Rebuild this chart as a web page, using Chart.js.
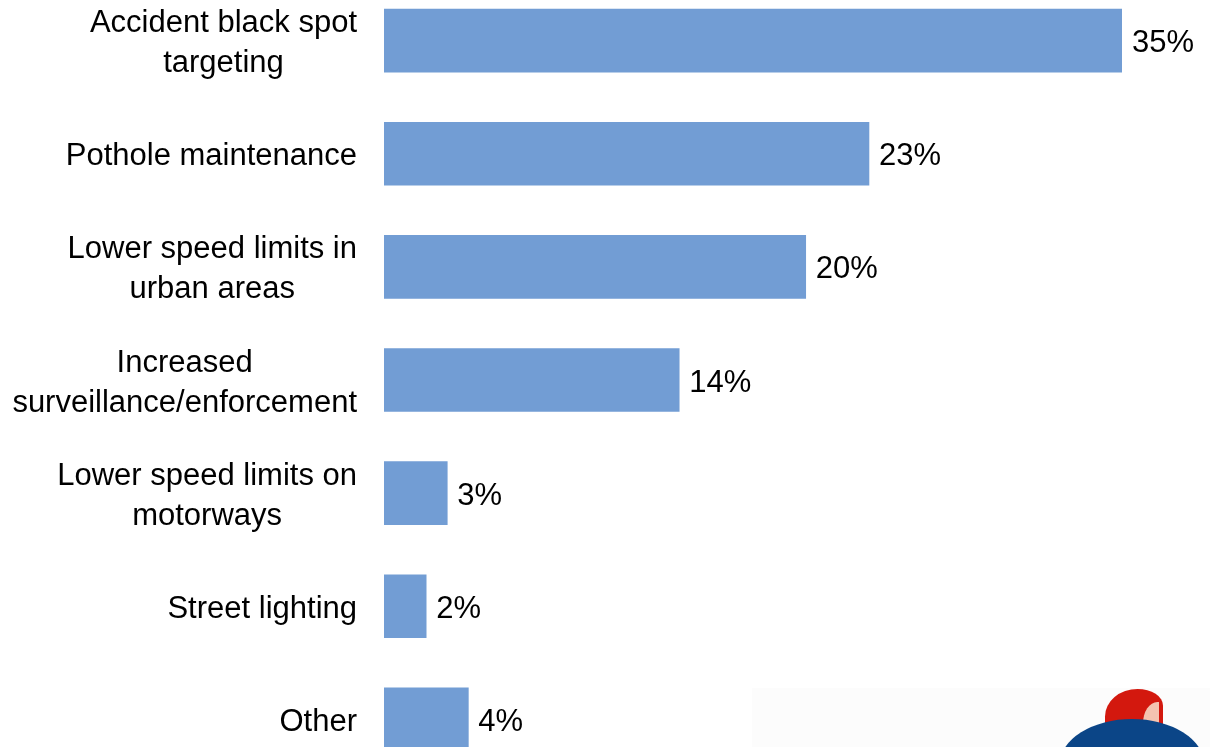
<!DOCTYPE html>
<html>
<head>
<meta charset="utf-8">
<script src="https://cdn.jsdelivr.net/npm/chart.js@4/dist/chart.umd.min.js"></script>
<style>
  html, body { margin: 0; padding: 0; background: #fff; overflow: hidden; }
  #wrap { position: relative; width: 1210px; height: 747px; overflow: hidden; }
  #chart { position: absolute; left: 0; top: -16px; }
  /* 右下のロゴ（装飾） */
  #logo-bg { position: absolute; left: 752px; top: 688px; width: 458px; height: 60px; background: #fcfcfc; }
  #logo-red { position: absolute; left: 1105px; top: 689px; width: 58px; height: 44px; background: #d3180e;
              border-radius: 90% 70% 0 0 / 100% 60% 0 0; }
  #logo-pink { position: absolute; left: 1143px; top: 702px; width: 16px; height: 24px; background: #f4c3b0;
               border-radius: 90% 0 0 0; }
  #logo-blue { position: absolute; left: 1060px; top: 719px; width: 144px; height: 90px; background: #0b4587;
               border-radius: 50%; }
</style>
</head>
<body>
<div id="wrap">
  <div id="logo-bg"></div>
  <div id="logo-red"></div>
  <div id="logo-pink"></div>
  <div id="logo-blue"></div>
  <canvas id="chart" width="1210" height="792"></canvas>
</div>
<script>
// カテゴリと値
const categories = [
    ['Accident black spot', 'targeting'],
    ['Pothole maintenance'],
    ['Lower speed limits in', 'urban areas'],
    ['Increased', 'surveillance/enforcement'],
    ['Lower speed limits on', 'motorways'],
    ['Street lighting'],
    ['Other']
];
const values = [35, 23, 20, 14, 3, 2, 4];
const valueLabels = ['35%', '23%', '20%', '14%', '3%', '2%', '4%'];

const FONT = 'Arial, "Liberation Sans", sans-serif';

// カテゴリラベル：ブロックは右揃え、行は中央揃え
const categoryLabelPlugin = {
    id: 'categoryLabels',
    afterDraw(chart) {
        const ctx = chart.ctx;
        const yScale = chart.scales.y;
        const right = chart.chartArea.left - 27;
        const lineH = 40;
        ctx.save();
        ctx.font = '31px ' + FONT;
        ctx.fillStyle = '#000';
        ctx.textBaseline = 'middle';
        ctx.textAlign = 'center';
        categories.forEach((lines, i) => {
            const yc = yScale.getPixelForValue(i) + 3;
            const w = Math.max(...lines.map(l => ctx.measureText(l).width));
            const cx = right - w / 2;
            const y0 = yc - (lines.length - 1) * lineH / 2;
            lines.forEach((l, j) => ctx.fillText(l, cx, y0 + j * lineH));
        });
        ctx.restore();
    }
};

// バーの右側に値ラベル
const valueLabelPlugin = {
    id: 'valueLabels',
    afterDatasetsDraw(chart) {
        const ctx = chart.ctx;
        const meta = chart.getDatasetMeta(0);
        ctx.save();
        ctx.font = '31px ' + FONT;
        ctx.fillStyle = '#000';
        ctx.textBaseline = 'middle';
        ctx.textAlign = 'left';
        meta.data.forEach((bar, i) => {
            ctx.fillText(valueLabels[i], bar.x + 10, bar.y + 3);
        });
        ctx.restore();
    }
};

new Chart(document.getElementById('chart').getContext('2d'), {
    type: 'bar',
    data: {
        labels: categories,
        datasets: [{
            data: values,
            backgroundColor: '#729dd4',
            barThickness: 63
        }]
    },
    options: {
        indexAxis: 'y',
        responsive: false,
        animation: false,
        layout: { padding: { top: 0, bottom: 0, left: 0, right: 88 } },
        plugins: {
            legend: { display: false },
            tooltip: { enabled: false }
        },
        scales: {
            x: {
                display: false,
                min: 0,
                max: 35
            },
            y: {
                grid: { display: false },
                border: { display: false },
                ticks: { display: false },
                afterFit(scale) { scale.width = 384; }
            }
        }
    },
    plugins: [categoryLabelPlugin, valueLabelPlugin]
});
</script>
</body>
</html>
